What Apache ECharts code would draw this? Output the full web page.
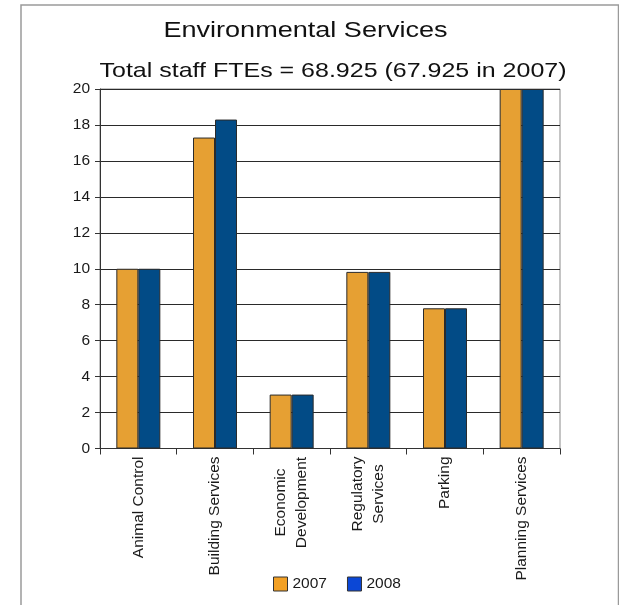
<!DOCTYPE html>
<html>
<head>
<meta charset="utf-8">
<script src="https://cdn.jsdelivr.net/npm/echarts@6/dist/echarts.min.js"></script>
<style>
  html, body { margin: 0; padding: 0; background: #fff; }
  #chart { width: 619px; height: 605px; }
</style>
</head>
<body>
<div id="chart"></div>
<script>
// Staff FTEs per division
const categories = ['Animal Control', 'Building Services', 'Economic\nDevelopment', 'Regulatory\nServices', 'Parking', 'Planning Services'];
const staff2007 = [10, 17.3, 3, 9.825, 7.8, 20];
const staff2008 = [10, 18.3, 3, 9.825, 7.8, 20];
const seriesNames = ['2007', '2008'];
const titleText = 'Environmental Services';
const subtitleText = 'Total staff FTEs = 68.925 (67.925 in 2007)';

const FONT = '"Liberation Sans", Arial, Helvetica, sans-serif';
const TEXT = '#1a1a1a';
const LABEL_SIZE = 15.5;

// Two-line category labels: centre each line inside a box as wide as the longest line
const measureCtx = document.createElement('canvas').getContext('2d');
measureCtx.font = LABEL_SIZE + 'px "Liberation Sans"';
const rich = {};
categories.forEach((c, i) => {
  const lines = c.split('\n');
  if (lines.length > 1) {
    const w = Math.max(...lines.map(l => measureCtx.measureText(l).width));
    rich['m' + i] = { width: Math.ceil(w), align: 'center', fontSize: LABEL_SIZE, fontFamily: FONT, color: TEXT, lineHeight: 21 };
  }
});

const chart = echarts.init(document.getElementById('chart'), null, { renderer: 'canvas' });

chart.setOption({
  animation: false,
  backgroundColor: '#fff',
  graphic: [
    { type: 'rect', silent: true, z: -10,
      shape: { x: 21, y: 5, width: 597.5, height: 640 },
      style: { fill: 'none', stroke: '#9a9a9a', lineWidth: 1.5 } },
    { type: 'text', x: 305.5, y: 31.3, scaleX: 1.23,
      style: { text: titleText, fontSize: 22, fontFamily: FONT, fill: '#111', align: 'center', verticalAlign: 'middle' } },
    { type: 'text', x: 333, y: 70.8, scaleX: 1.19,
      style: { text: subtitleText, fontSize: 21, fontFamily: FONT, fill: '#111', align: 'center', verticalAlign: 'middle' } }
  ],
  legend: {
    left: 268, top: 571,
    itemWidth: 14, itemHeight: 14, itemGap: 20,
    icon: 'rect',
    textStyle: { fontSize: LABEL_SIZE, fontFamily: FONT, color: TEXT },
    data: [
      { name: seriesNames[0], itemStyle: { color: '#F2A024', borderColor: '#333', borderWidth: 1 } },
      { name: seriesNames[1], itemStyle: { color: '#0B47D6', borderColor: '#333', borderWidth: 1 } }
    ]
  },
  grid: {
    left: 100, right: 59, top: 89, bottom: 156.5,
    show: true, borderColor: '#8a8a8a', borderWidth: 1, backgroundColor: '#fff'
  },
  xAxis: {
    type: 'category',
    data: categories,
    boundaryGap: true,
    axisLine: { lineStyle: { color: '#333', width: 1 } },
    axisTick: { show: true, length: 6, lineStyle: { color: '#333' } },
    axisLabel: {
      rotate: 90, margin: 8, interval: 0,
      fontSize: LABEL_SIZE, fontFamily: FONT, color: TEXT, lineHeight: 21,
      formatter: (value, index) => {
        const lines = value.split('\n');
        if (lines.length === 1) return value;
        return lines.map(l => '{m' + index + '|' + l + '}').join('\n');
      },
      rich: rich
    },
    splitLine: { show: false }
  },
  yAxis: {
    type: 'value',
    min: 0, max: 20, interval: 2,
    axisLine: { show: true, lineStyle: { color: '#333', width: 1 } },
    axisTick: { show: true, length: 5, lineStyle: { color: '#333' } },
    axisLabel: { margin: 10, fontSize: LABEL_SIZE, fontFamily: FONT, color: TEXT },
    splitLine: { show: true, lineStyle: { color: '#2a2a2a', width: 1 } }
  },
  series: [
    {
      name: seriesNames[0], type: 'bar', data: staff2007,
      barWidth: 22, barGap: '0%',
      itemStyle: { color: '#E6A033', borderColor: '#2b2b2b', borderWidth: 1 }
    },
    {
      name: seriesNames[1], type: 'bar', data: staff2008,
      barWidth: 22, barGap: '0%',
      itemStyle: { color: '#024B86', borderColor: '#2b2b2b', borderWidth: 1 }
    }
  ]
});
</script>
</body>
</html>
